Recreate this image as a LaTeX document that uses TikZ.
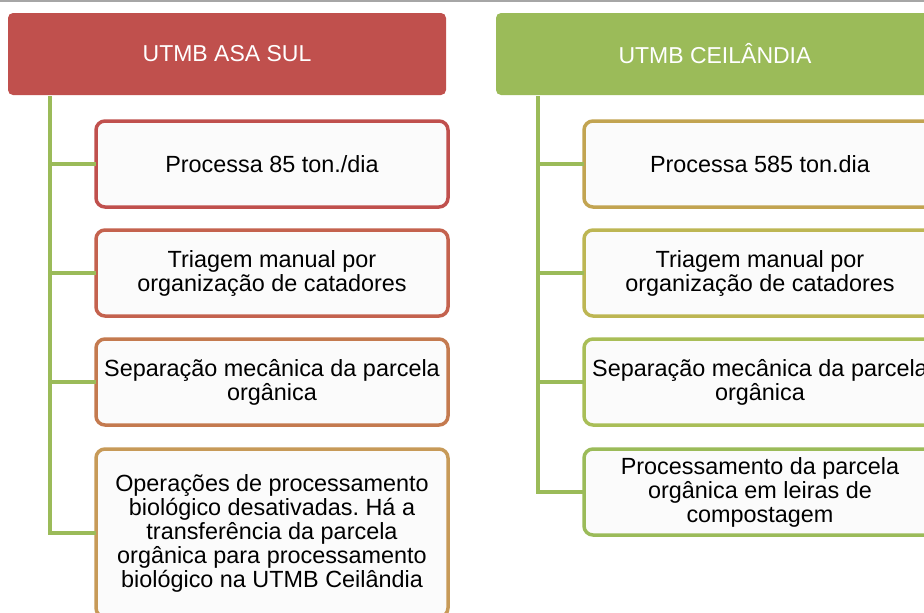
\documentclass[tikz,border=0pt]{standalone}
\usepackage{fontspec}
\setmainfont{Liberation Sans}
\frenchspacing
\definecolor{hdrred}{HTML}{C0504D}
\definecolor{hdrgreen}{HTML}{9BBB59}
\definecolor{conn}{HTML}{9BBB59}
\definecolor{lA}{HTML}{C0504D}
\definecolor{lB}{HTML}{C4624E}
\definecolor{lC}{HTML}{C47A4F}
\definecolor{lD}{HTML}{C79A58}
\definecolor{rA}{HTML}{C2A451}
\definecolor{rB}{HTML}{BDB653}
\definecolor{rC}{HTML}{A9BE57}
\definecolor{rD}{HTML}{9BBB59}
\definecolor{boxfill}{HTML}{FBFBFB}
\definecolor{topline}{HTML}{A6A6A6}
\begin{document}
\begin{tikzpicture}[x=1pt,y=-1pt,
  hdr/.style={rectangle,rounded corners=5pt,minimum width=438pt,minimum height=82pt,
    anchor=north west,inner sep=0pt,outer sep=0pt,text=white,font=\fontsize{23}{24}\selectfont},
  itembox/.style={rectangle,rounded corners=9pt,line width=3.5pt,fill=boxfill,
    minimum width=352pt,anchor=north west,inner sep=0pt,outer sep=0pt,align=center,
    font=\fontsize{23.4}{24}\selectfont},
  link/.style={draw=conn,line width=4pt}]
\useasboundingbox (0,0) rectangle (924,613);
\clip (0,0) rectangle (924,613);
\fill[white] (0,0) rectangle (924,613);
\draw[topline,line width=2pt] (0,1) -- (924,1);
% left column
\node[hdr,fill=hdrred] (hl) at (8,13) {UTMB ASA SUL};
\node[itembox,draw=lA,minimum height=86pt] (l1) at (96,121) {Processa 85 ton./dia};
\node[itembox,draw=lB,minimum height=86pt] (l2) at (96,230) {Triagem manual por\\organização de catadores};
\node[itembox,draw=lC,minimum height=86pt] (l3) at (96,339) {Separação mecânica da parcela\\orgânica};
\node[itembox,draw=lD,minimum height=168pt] (l4) at (96,449) {Operações de processamento\\biológico desativadas. Há a\\transferência da parcela\\orgânica para processamento\\biológico na UTMB Ceilândia};
\coordinate (lt) at (50,96);
\draw[link] (lt) |- (l4.west);
\draw[link] (l1.west -| lt) -- (l1.west);
\draw[link] (l2.west -| lt) -- (l2.west);
\draw[link] (l3.west -| lt) -- (l3.west);
% right column
\node[hdr,fill=hdrgreen] (hr) at (496,13) {UTMB CEILÂNDIA};
\node[itembox,draw=rA,minimum height=86pt] (r1) at (584,121) {Processa 585 ton.dia};
\node[itembox,draw=rB,minimum height=86pt] (r2) at (584,230) {Triagem manual por\\organização de catadores};
\node[itembox,draw=rC,minimum height=86pt] (r3) at (584,339) {Separação mecânica da parcela\\orgânica};
\node[itembox,draw=rD,minimum height=86pt] (r4) at (584,449) {Processamento da parcela\\orgânica em leiras de\\compostagem};
\coordinate (rt) at (538,96);
\draw[link] (rt) |- (r4.west);
\draw[link] (r1.west -| rt) -- (r1.west);
\draw[link] (r2.west -| rt) -- (r2.west);
\draw[link] (r3.west -| rt) -- (r3.west);
\end{tikzpicture}
\end{document}
